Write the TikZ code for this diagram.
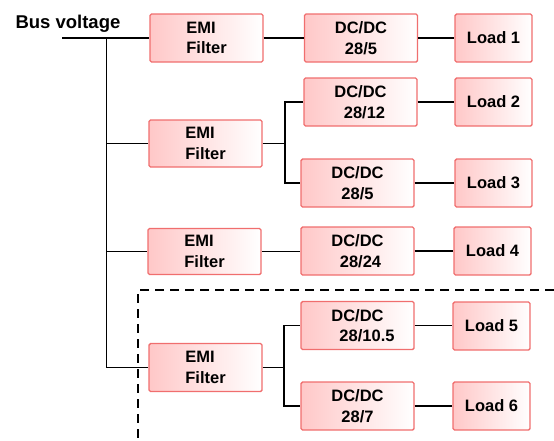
\documentclass[tikz,border=0pt]{standalone}
\usepackage{fontspec}
\setmainfont{Liberation Sans}
\definecolor{pinkL}{RGB}{255,200,200}
\definecolor{boxborder}{RGB}{240,110,110}
\begin{document}
\begin{tikzpicture}[x=1pt,y=-1pt,
  box/.style={draw=boxborder, line width=1.4pt, rounded corners=1.5pt,
    left color=pinkL, right color=white, inner sep=0pt,
    font=\bfseries\fontsize{16.5}{20.5}\selectfont, minimum height=48pt},
  emi/.style={box, minimum width=113pt, align=left},
  dcdc/.style={box, minimum width=113pt, align=center},
  load/.style={box, minimum width=77pt},
  wire/.style={line width=1.6pt, black},
  dashline/.style={line width=1.6pt, black, dash pattern=on 9pt off 6pt}]
\useasboundingbox (0,0) rectangle (554,440);

\node[anchor=base west, font=\bfseries\fontsize{18.5}{22}\selectfont] (bus) at (12,28) {Bus voltage};

\node[emi] (E1) at (206.5,38) {EMI\\Filter};
\node[dcdc] (D1) at (361,38) {DC/DC\\28/5};
\node[load] (L1) at (493.5,38) {Load 1};

\node[dcdc] (D2) at (360.5,102) {DC/DC\\\hspace*{8pt}28/12};
\node[load] (L2) at (493.5,102) {Load 2};
\node[emi, minimum height=47pt] (E2) at (205.5,143.5) {EMI\\Filter};
\node[dcdc] (D3) at (357.5,183) {DC/DC\\28/5};
\node[load] (L3) at (493.5,183) {Load 3};

\node[emi, minimum height=46pt] (E4) at (204.5,251.5) {EMI\\Filter};
\node[dcdc] (D4) at (357.5,251) {DC/DC\\\hspace*{6pt}28/24};
\node[load] (L4) at (492.5,251) {Load 4};

\node[dcdc] (D5) at (357.5,325.5) {DC/DC\\\hspace*{19pt}28/10.5};
\node[load] (L5) at (491.5,326) {Load 5};
\node[emi] (E6) at (205.5,367.5) {EMI\\Filter};
\node[dcdc] (D6) at (357.5,406) {DC/DC\\28/7};
\node[load] (L6) at (491.5,406) {Load 6};

% bus
\coordinate (busL) at (62,38);
\coordinate (busV) at (106.5,38);
\draw[wire] (busL) -- (E1.west);
\draw[wire] (busV) |- (E6.west);
\draw[wire] (busV |- E2.west) -- (E2.west);
\draw[wire] (busV |- E4.west) -- (E4.west);

% row 1
\draw[wire] (E1.east) -- (E1.east -| D1.west);
\draw[wire] (D1.east) -- (D1.east -| L1.west);

% group 2
\coordinate (j2) at (285,143.5);
\draw[wire] (E2.east) -- (j2);
\draw[wire] (j2) |- (D2.west);
\draw[wire] (j2) |- (D3.west);
\draw[wire] (D2.east) -- (D2.east -| L2.west);
\draw[wire] (D3.east) -- (D3.east -| L3.west);

% row 4
\draw[wire] (E4.east) -- (E4.east -| D4.west);
\draw[wire] (D4.east) -- (D4.east -| L4.west);

% group 6
\coordinate (j6) at (284,367.5);
\draw[wire] (E6.east) -- (j6);
\draw[wire] (j6) |- (D5.west);
\draw[wire] (j6) |- (D6.west);
\draw[wire] (D5.east) -- (D5.east -| L5.west);
\draw[wire] (D6.east) -- (D6.east -| L6.west);

% dashed boundary
\coordinate (dTR) at (554,290);
\coordinate (dC) at (138,290);
\coordinate (dB) at (138,440);
\draw[dashline] (dTR) -- (dC) -- (dB);
\end{tikzpicture}
\end{document}
